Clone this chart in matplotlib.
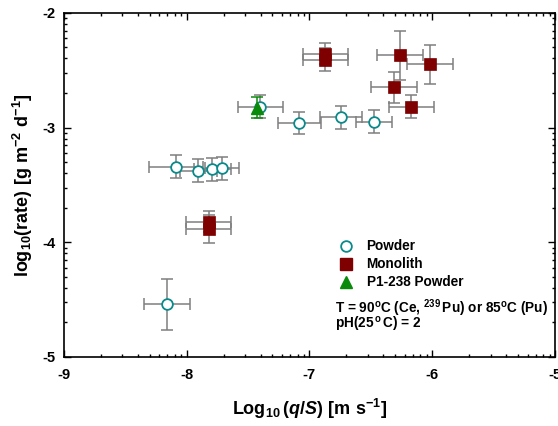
import numpy as np
import matplotlib
matplotlib.use('Agg')
from matplotlib import pyplot as plt
from matplotlib.ticker import FixedLocator

plt.rcParams['font.family'] = 'Liberation Sans'
plt.rcParams['font.weight'] = 'bold'
plt.rcParams['axes.unicode_minus'] = False
plt.rcParams['mathtext.fontset'] = 'custom'
plt.rcParams['mathtext.default'] = 'bf'
plt.rcParams['mathtext.bf'] = 'Liberation Sans:bold'
plt.rcParams['mathtext.rm'] = 'Liberation Sans:bold'
plt.rcParams['mathtext.it'] = 'Liberation Sans:bold:italic'

# powder samples (open circles)
powder_x = [-8.085, -7.905, -7.79, -7.71, -7.083, -6.746, -6.478, -8.161, -7.40]
powder_y = [-3.340, -3.375, -3.363, -3.357, -2.962, -2.909, -2.948, -4.540, -2.818]
powder_xerr = [0.22, 0.15, 0.15, 0.14, 0.176, 0.17, 0.146, 0.187, 0.185]
powder_yerr = [0.10, 0.10, 0.10, 0.10, 0.098, 0.10, 0.10, 0.222, 0.10]

# monolith samples (squares)
mono_x = [-6.87, -6.87, -6.264, -6.02, -6.31, -6.17, -7.82, -7.82]
mono_y = [-2.357, -2.410, -2.372, -2.447, -2.648, -2.817, -3.820, -3.886]
mono_xerr = [0.185, 0.185, 0.185, 0.185, 0.185, 0.185, 0.185, 0.185]
mono_yerr = [0.09, 0.10, 0.21, 0.17, 0.135, 0.10, 0.09, 0.12]

# P1-238 powder (triangle)
p1_x = [-7.43]
p1_y = [-2.826]
p1_yerr = [0.09]

grey = '#7f7f7f'
teal = '#0a8a8a'
maroon = '#7f0000'
green = '#0a8a0a'

fig = plt.figure(figsize=(5.58, 4.26), dpi=100)
ax = fig.add_axes([0.114, 0.162, 0.881, 0.808])

ax.errorbar(powder_x, powder_y, xerr=powder_xerr, yerr=powder_yerr, fmt='none',
            ecolor=grey, elinewidth=1.1, capsize=4.5, capthick=1.1, zorder=2)
ax.errorbar(mono_x, mono_y, xerr=mono_xerr, yerr=mono_yerr, fmt='none',
            ecolor=grey, elinewidth=1.1, capsize=4.5, capthick=1.1, zorder=2)
ax.plot(powder_x, powder_y, 'o', ms=7.7, mfc='white', mec=teal, mew=1.3, zorder=3)
ax.plot(mono_x, mono_y, 's', ms=8.2, mfc=maroon, mec=maroon, mew=0.5, zorder=3)
ax.errorbar(p1_x, p1_y, yerr=p1_yerr, fmt='none', ecolor=green, elinewidth=1.1,
            capsize=4.5, capthick=1.1, zorder=4)
ax.plot(p1_x, p1_y, '^', ms=9, mfc=green, mec=green, zorder=5)

ax.set_xlim(-9, -5)
ax.set_ylim(-5, -2)
ax.set_xticks([-9, -8, -7, -6, -5])
ax.set_yticks([-5, -4, -3, -2])
logk = np.log10(np.arange(2, 10))
ax.xaxis.set_minor_locator(FixedLocator(np.concatenate([n + logk for n in range(-9, -5)])))
ax.yaxis.set_minor_locator(FixedLocator(np.concatenate([n + logk for n in range(-5, -2)])))
ax.tick_params(which='both', direction='in', top=True, right=True, labelsize=10.5, width=1)
ax.tick_params(which='major', length=5, pad=6)
ax.tick_params(axis='x', which='major', pad=8)
ax.tick_params(which='minor', length=2.5)
for s in ax.spines.values():
    s.set_linewidth(1.2)

ax.set_xlabel(r'$Log_{10}\,(\mathit{q/S})\ [m\ s^{-1}]$', fontsize=13, labelpad=11)
ax.set_ylabel(r'$log_{10}(rate)\ [g\ m^{-2}\ d^{-1}]$', fontsize=13, labelpad=5)

# legend drawn by hand
ax.plot([-6.70], [-4.029], 'o', ms=7.7, mfc='white', mec=teal, mew=1.3)
ax.plot([-6.70], [-4.191], 's', ms=8.2, mfc=maroon, mec=maroon)
ax.plot([-6.70], [-4.343], '^', ms=9, mfc=green, mec=green)
ax.text(-6.535, -4.029, 'Powder', fontsize=9.8, va='center')
ax.text(-6.535, -4.191, 'Monolith', fontsize=9.8, va='center')
ax.text(-6.535, -4.343, 'P1-238 Powder', fontsize=9.8, va='center')
ax.text(-6.79, -4.578, r'T = 90$^{o}$C (Ce, $^{239}\,$Pu) or 85$^{o}$C (Pu)', fontsize=9.8, va='center')
ax.text(-6.79, -4.718, r'pH(25$^{\,o}\,$C) = 2', fontsize=9.8, va='center')

fig.savefig('out.png', dpi=100)
